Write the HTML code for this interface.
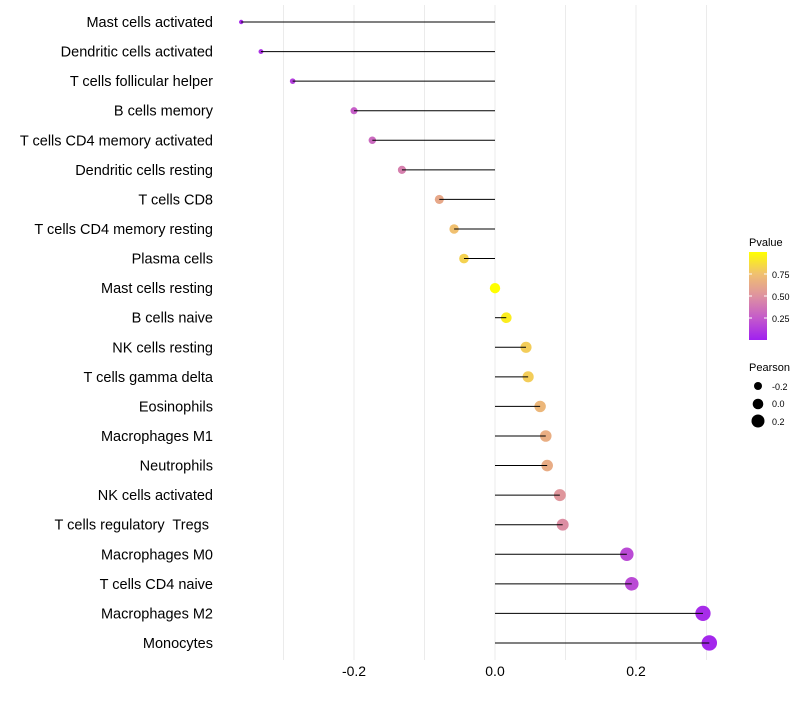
<!DOCTYPE html>
<html><head><meta charset="utf-8"><style>
body{margin:0;background:#fff;font-family:"Liberation Sans",sans-serif}
text{white-space:pre}
</style></head><body>
<svg id="chart" width="800" height="700" xmlns="http://www.w3.org/2000/svg">
<defs><linearGradient id="pg" x1="0" y1="1" x2="0" y2="0">
<stop offset="0" stop-color="#A020F0"/><stop offset="0.25" stop-color="#C45ACB"/><stop offset="0.5" stop-color="#DE92A0"/><stop offset="0.75" stop-color="#F0C070"/><stop offset="1" stop-color="#FFFF00"/></linearGradient></defs>
<g id="grid"></g><g id="marks"></g><g id="labels"></g>
<g font-size="10" fill="#000">
<text x="749" y="246" font-size="11">Pvalue</text>
<rect x="749" y="252" width="18" height="88" fill="url(#pg)"/>
<line x1="749" x2="752" y1="274" y2="274" stroke="#fff"/><line x1="764" x2="767" y1="274" y2="274" stroke="#fff"/>
<line x1="749" x2="752" y1="296" y2="296" stroke="#fff"/><line x1="764" x2="767" y1="296" y2="296" stroke="#fff"/>
<line x1="749" x2="752" y1="318" y2="318" stroke="#fff"/><line x1="764" x2="767" y1="318" y2="318" stroke="#fff"/>
<text x="772" y="278" font-size="9">0.75</text><text x="772" y="300" font-size="9">0.50</text><text x="772" y="322" font-size="9">0.25</text>
<text x="749" y="371" font-size="11">Pearson</text>
<circle cx="758" cy="386" r="4"/><text x="772" y="390" font-size="9">-0.2</text>
<circle cx="758" cy="404" r="5.3"/><text x="772" y="407" font-size="9">0.0</text>
<circle cx="758" cy="421" r="6.5"/><text x="772" y="425" font-size="9">0.2</text>
</g>
</svg>
<script>
const cells=["Mast cells activated","Dendritic cells activated","T cells follicular helper","B cells memory","T cells CD4 memory activated","Dendritic cells resting","T cells CD8","T cells CD4 memory resting","Plasma cells","Mast cells resting","B cells naive","NK cells resting","T cells gamma delta","Eosinophils","Macrophages M1","Neutrophils","NK cells activated","T cells regulatory  Tregs ","Macrophages M0","T cells CD4 naive","Macrophages M2","Monocytes"];
const pearson=[-0.360,-0.332,-0.287,-0.200,-0.174,-0.132,-0.079,-0.058,-0.044,0.0,0.016,0.044,0.047,0.064,0.072,0.074,0.092,0.096,0.187,0.194,0.295,0.304];
const pvalue=[0.04,0.08,0.13,0.27,0.32,0.42,0.62,0.75,0.82,1.0,0.93,0.80,0.80,0.70,0.65,0.64,0.52,0.48,0.18,0.18,0.05,0.03];
const ticks=[-0.2,0.0,0.2];
const grids=[-0.3,-0.2,-0.1,0,0.1,0.2,0.3];
const X=v=>495+v*705, Y=i=>22+i*29.57, R=v=>2.2+(v+0.36)*8.3;
const stops=[[0,[160,32,240]],[0.25,[196,90,203]],[0.5,[222,146,160]],[0.75,[240,192,112]],[1,[255,255,0]]];
function col(p){for(let i=1;i<stops.length;i++){if(p<=stops[i][0]){const a=stops[i-1],b=stops[i],t=(p-a[0])/(b[0]-a[0]);return 'rgb('+a[1].map((c,k)=>Math.round(c+(b[1][k]-c)*t)).join(',')+')';}}return 'rgb(255,255,0)';}
const NS="http://www.w3.org/2000/svg";
function mk(t,a,p){const e=document.createElementNS(NS,t);for(const k in a)e.setAttribute(k,a[k]);p.appendChild(e);return e;}
const g=document.getElementById('grid'),m=document.getElementById('marks'),l=document.getElementById('labels');
grids.forEach(v=>{const e=mk('line',{x1:X(v),x2:X(v),y1:5,y2:660,stroke:'#ebebeb','stroke-width':1},g);

});
ticks.forEach(v=>{const e=mk('text',{x:X(v),y:676,'text-anchor':'middle','font-size':14,fill:'#000'},l);e.textContent=v.toFixed(1);

});
cells.forEach((c,i)=>{
const d=mk('circle',{cx:X(pearson[i]),cy:Y(i),r:R(pearson[i]),fill:col(pvalue[i])},m);


const s=mk('line',{x1:X(0),x2:X(pearson[i]),y1:Y(i),y2:Y(i),stroke:'#000','stroke-width':1},m);


const t=mk('text',{x:213,y:Y(i)+5,'text-anchor':'end','font-size':14.5,fill:'#000'},l);t.textContent=c;


});
</script>
</body></html>
